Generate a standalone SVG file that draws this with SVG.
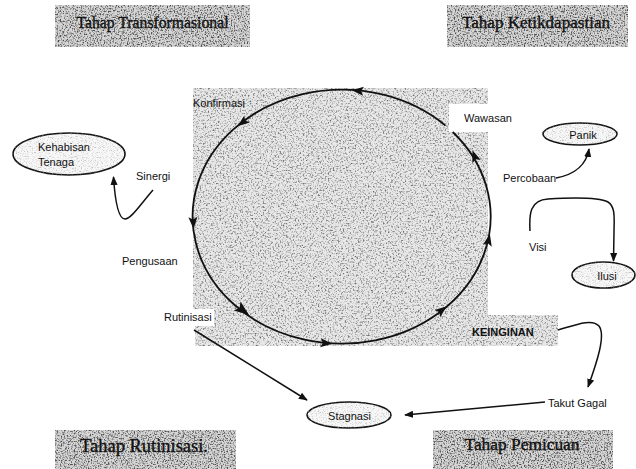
<svg xmlns="http://www.w3.org/2000/svg" width="636" height="469" viewBox="0 0 636 469">
<style>
.lbl{font-family:"Liberation Sans",Arial,sans-serif;font-size:11px;fill:#111}
.bold{font-weight:bold}
.stage{font-family:"Liberation Serif","Times New Roman",serif;fill:#111;stroke:#111;stroke-width:0.35;text-anchor:middle}
.conn{fill:none;stroke:#111;stroke-width:1.5}
.cyc{fill:none;stroke:#111;stroke-width:1.8}
.node{stroke:#111;stroke-width:1.6;fill:#f7f7f7}
.ah{fill:#111}
</style>
<defs>
<filter id="grainMain" color-interpolation-filters="sRGB">
<feTurbulence type="fractalNoise" baseFrequency="0.6" numOctaves="2" seed="7" result="n"/>
<feColorMatrix in="n" type="matrix" values="0 0 0 0 0.42 0 0 0 0 0.42 0 0 0 0 0.42 3 0 0 0 -1.47" result="d"/>
<feComposite in="d" in2="SourceAlpha" operator="in" result="dc"/>
<feMerge><feMergeNode in="SourceGraphic"/><feMergeNode in="dc"/></feMerge>
</filter>
<filter id="grainBox" color-interpolation-filters="sRGB">
<feTurbulence type="fractalNoise" baseFrequency="0.7" numOctaves="2" seed="3" result="n"/>
<feColorMatrix in="n" type="matrix" values="0 0 0 0 0.3 0 0 0 0 0.3 0 0 0 0 0.3 3.5 0 0 0 -1.62" result="d"/>
<feComposite in="d" in2="SourceAlpha" operator="in" result="dc"/>
<feMerge><feMergeNode in="SourceGraphic"/><feMergeNode in="dc"/></feMerge>
</filter>
<filter id="grainLight" color-interpolation-filters="sRGB">
<feTurbulence type="fractalNoise" baseFrequency="0.8" numOctaves="2" seed="11" result="n"/>
<feColorMatrix in="n" type="matrix" values="0 0 0 0 0.6 0 0 0 0 0.6 0 0 0 0 0.6 2 0 0 0 -1.05" result="d"/>
<feComposite in="d" in2="SourceAlpha" operator="in" result="dc"/>
<feMerge><feMergeNode in="SourceGraphic"/><feMergeNode in="dc"/></feMerge>
</filter>
<marker id="arr" viewBox="0 0 10 10" refX="9" refY="5" markerWidth="9" markerHeight="9" markerUnits="userSpaceOnUse" orient="auto">
<path d="M0,1 L10,5 L0,9 Z" fill="#111"/>
</marker>
<path id="ah" d="M6,0 L-6,-4.5 L-3.5,0 L-6,4.5 Z"/>
</defs>

<rect width="636" height="469" fill="#fff"/>

<!-- central textured backdrop -->
<path d="M193,88 H488 V104 H449 V132 H488 V315 H558 V346 H195 V326 H214 V309 H193 Z" fill="#e8e8e8" filter="url(#grainMain)"/>

<g id="stage-transformasional">
<rect x="55" y="5" width="195" height="42" fill="#d6d6d6" filter="url(#grainBox)"/>
<text class="stage" x="152.5" y="28" font-size="16.5" textLength="152" lengthAdjust="spacingAndGlyphs">Tahap Transformasional</text>
</g>
<g id="stage-ketikdapastian">
<rect x="447" y="5" width="181" height="42" fill="#d6d6d6" filter="url(#grainBox)"/>
<text class="stage" x="536" y="28" font-size="17" textLength="148" lengthAdjust="spacingAndGlyphs">Tahap Ketikdapastian</text>
</g>
<g id="stage-rutinisasi">
<rect x="55" y="430" width="181" height="39" fill="#d6d6d6" filter="url(#grainBox)"/>
<text class="stage" x="144" y="452" font-size="18" textLength="128" lengthAdjust="spacingAndGlyphs">Tahap Rutinisasi.</text>
</g>
<g id="stage-pemicuan">
<rect x="433" y="430" width="180" height="39" fill="#d6d6d6" filter="url(#grainBox)"/>
<text class="stage" x="522" y="450" font-size="17" textLength="115" lengthAdjust="spacingAndGlyphs">Tahap Pemicuan</text>
</g>

<g id="cycle">
<path class="cyc" d="M452.7,132.0 A149,127 0 1 1 445.5,125.6"/>
<use href="#ah" class="ah" transform="translate(357.6,90.7) rotate(185.1)"/>
<use href="#ah" class="ah" transform="translate(242.3,122.6) rotate(142.5)"/>
<use href="#ah" class="ah" transform="translate(193.2,223.0) rotate(86.8)"/>
<use href="#ah" class="ah" transform="translate(243.1,310.5) rotate(37) scale(1.25)"/>
<use href="#ah" class="ah" transform="translate(326.4,343.3) rotate(5.1)"/>
<use href="#ah" class="ah" transform="translate(442.1,310.0) rotate(-37.7)"/>
<use href="#ah" class="ah" transform="translate(488.6,239.9) rotate(-77.8)"/>
<use href="#ah" class="ah" transform="translate(474.5,156) rotate(-110)"/>
</g>

<g id="node-kehabisan-tenaga">
<ellipse class="node" cx="69" cy="154" rx="56" ry="21" filter="url(#grainLight)"/>
<text class="lbl" x="38" y="151">Kehabisan</text>
<text class="lbl" x="38" y="166">Tenaga</text>
</g>
<g id="node-panik">
<ellipse class="node" cx="580" cy="134" rx="37" ry="11" filter="url(#grainLight)"/>
<text class="lbl" x="583" y="139" text-anchor="middle" font-size="11.5">Panik</text>
</g>
<g id="node-ilusi">
<ellipse class="node" cx="603.5" cy="275" rx="31.5" ry="13" filter="url(#grainLight)"/>
<text class="lbl" x="607" y="280" text-anchor="middle" font-size="11.5">Ilusi</text>
</g>
<g id="node-stagnasi">
<ellipse class="node" cx="349" cy="415" rx="42" ry="13" filter="url(#grainLight)"/>
<text class="lbl" x="349.5" y="420" text-anchor="middle">Stagnasi</text>
</g>

<g id="label-konfirmasi"><text class="lbl" x="193" y="107">Konfirmasi</text></g>
<g id="label-wawasan"><text class="lbl" x="464" y="122">Wawasan</text></g>
<g id="label-percobaan"><text class="lbl" x="503" y="182">Percobaan</text></g>
<g id="label-visi"><text class="lbl" x="529" y="251">Visi</text></g>
<g id="label-sinergi"><text class="lbl" x="136" y="180">Sinergi</text></g>
<g id="label-pengusaan"><text class="lbl" x="122" y="265">Pengusaan</text></g>
<g id="label-rutinisasi"><text class="lbl" x="164" y="321">Rutinisasi</text></g>
<g id="label-keinginan"><text class="lbl bold" x="472" y="336">KEINGINAN</text></g>
<g id="label-takut-gagal"><text class="lbl" x="548" y="407">Takut Gagal</text></g>

<g id="connectors">
<path class="conn" marker-end="url(#arr)" d="M153,190 C140,205 131,219 125,219 C118,219 115,200 113.5,177"/>
<path class="conn" marker-end="url(#arr)" d="M556,178 C572,175 586,167 589,149"/>
<path class="conn" marker-end="url(#arr)" d="M530,231 C529,214 530,200 548,199 C565,198 598,197 608,202 C616,207 614,220 614,232 L613.5,261"/>
<path class="conn" marker-end="url(#arr)" d="M558,330 C575,325 592,318 599,326 C606,335 597,362 588,387"/>
<path class="conn" marker-end="url(#arr)" d="M545,402 L405,415"/>
<path class="conn" marker-end="url(#arr)" d="M194,330 L307,400"/>
</g>
</svg>
